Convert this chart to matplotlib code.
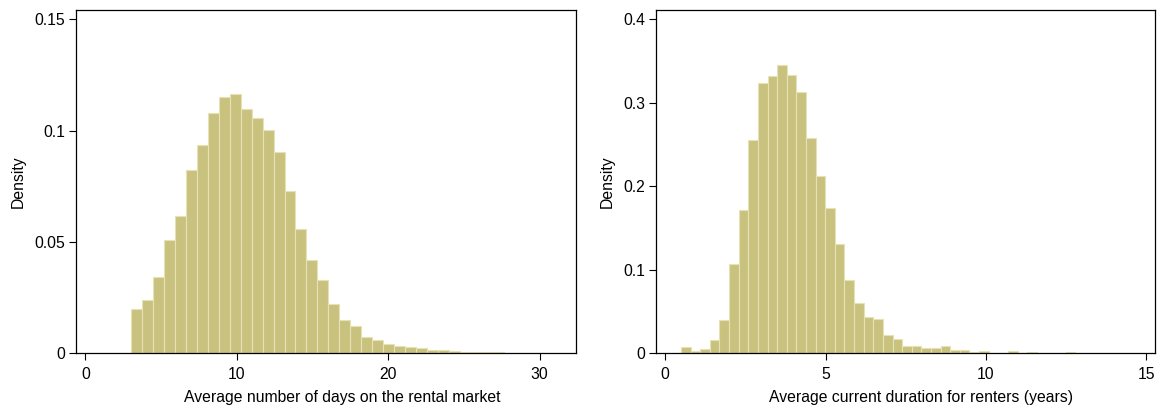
import numpy as np
import matplotlib
matplotlib.use("Agg")
import matplotlib.pyplot as plt

plt.rcParams['font.family'] = ['Liberation Sans', 'DejaVu Sans']

# ---- Data: left panel (average days on rental market) ----
days_bin_start = 3.0
days_bin_width = 0.725
days_density = [0.0200, 0.0239, 0.0343, 0.0507, 0.0617, 0.0822, 0.0934, 0.1078,
                0.1152, 0.1164, 0.1096, 0.1055, 0.1001, 0.0904, 0.0727, 0.0557,
                0.0421, 0.0329, 0.0223, 0.0149, 0.0123, 0.0072, 0.0060, 0.0042,
                0.0033, 0.0027, 0.0024, 0.0016, 0.0015, 0.0010, 0.0006, 0.0005,
                0.0006, 0.0005, 0.0002, 0.0001, 0.0001, 0.0002, 0.0001, 0.0002]
days_xticks = [0, 10, 20, 30]
days_yticks = [0, 0.05, 0.1, 0.15]
days_yticklabels = ["0", "0.05", "0.1", "0.15"]
days_xlabel = "Average number of days on the rental market"

# ---- Data: right panel (average current duration for renters) ----
dur_bin_start = 0.49
dur_bin_width = 0.300
dur_density = [0.0076, 0.0028, 0.0048, 0.0159, 0.0402, 0.1072, 0.1718, 0.2552,
               0.3242, 0.3314, 0.3449, 0.3333, 0.3123, 0.2572, 0.2125, 0.1738,
               0.1304, 0.0877, 0.0598, 0.0434, 0.0410, 0.0219, 0.0171, 0.0088,
               0.0088, 0.0064, 0.0064, 0.0088, 0.0040, 0.0044, 0.0014, 0.0024,
               0.0005, 0.0005, 0.0028, 0.0005, 0.0020, 0.0005, 0.0, 0.0, 0.0012]
dur_xticks = [0, 5, 10, 15]
dur_yticks = [0, 0.1, 0.2, 0.3, 0.4]
dur_yticklabels = ["0", "0.1", "0.2", "0.3", "0.4"]
dur_xlabel = "Average current duration for renters (years)"

ylabel = "Density"

FILL = "#C9C27F"
EDGE = "#E6E2B6"
FS = 11.3

fig = plt.figure(figsize=(11.63, 4.11), dpi=100)
ax1 = fig.add_axes([76 / 1163, 1 - 353.3 / 411, 500 / 1163, 343.3 / 411])
ax2 = fig.add_axes([656 / 1163, 1 - 353.3 / 411, 499 / 1163, 343.3 / 411])


def draw(ax, start, width, dens, xticks, yticks, yticklabels, xlabel, xlim, ylim):
    n = len(dens)
    lefts = start + width * np.arange(n)
    ax.bar(lefts, dens, width=width, align='edge', color=FILL,
           edgecolor=EDGE, linewidth=0.8, zorder=2)
    ax.set_xlim(*xlim)
    ax.set_ylim(*ylim)
    ax.set_xticks(xticks)
    ax.set_xticklabels([str(t) for t in xticks])
    ax.set_yticks(yticks)
    ax.set_yticklabels(yticklabels)
    ax.tick_params(axis='both', direction='out', length=5, width=0.8,
                   labelsize=FS, colors='black', pad=3)
    ax.tick_params(axis='x', pad=5)
    for s in ax.spines.values():
        s.set_linewidth(0.9)
        s.set_color('black')
        s.set_zorder(3)
    ax.set_xlabel(xlabel, fontsize=FS, labelpad=4)
    ax.xaxis.set_label_coords(0.532, -0.108, transform=ax.transAxes)
    ax.xaxis.label.set_verticalalignment('top')
    ax.set_ylabel(ylabel, fontsize=FS, labelpad=6)


draw(ax1, days_bin_start, days_bin_width, days_density, days_xticks,
     days_yticks, days_yticklabels, days_xlabel, (-0.62, 32.4), (0, 0.1542))
draw(ax2, dur_bin_start, dur_bin_width, dur_density, dur_xticks,
     dur_yticks, dur_yticklabels, dur_xlabel, (-0.29, 15.28), (0, 0.411))

fig.savefig("out.png", dpi=100)
